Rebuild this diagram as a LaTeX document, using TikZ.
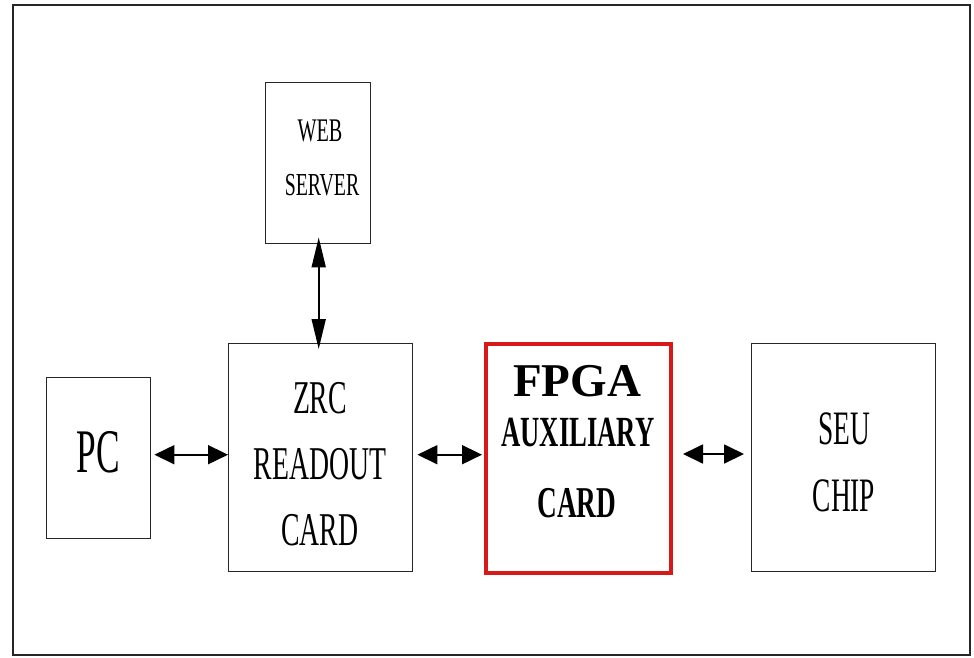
\documentclass[tikz,border=0pt]{standalone}
\usepackage{fontspec}
\setmainfont{Liberation Serif}
\usetikzlibrary{arrows.meta}
\definecolor{boxred}{RGB}{215,25,25}
\newcommand{\cnd}[2]{\scalebox{#1}[1]{#2}}
\begin{document}
\begin{tikzpicture}[x=1pt,y=-1pt,
  blk/.style={draw=black!85,line width=1.4pt,inner sep=0pt,anchor=north west},
  redblk/.style={draw=boxred,line width=4pt,inner sep=0pt,anchor=north west},
  lbl/.style={inner sep=0pt,anchor=center},
  harr/.style={line width=1.8pt,{Triangle[length=20pt,width=19pt]}-{Triangle[length=20pt,width=19pt]}},
  varr/.style={line width=1.8pt,{Triangle[length=30pt,width=14pt]}-{Triangle[length=30pt,width=14pt]}}]
\useasboundingbox (0,0) rectangle (974,657);
\draw[line width=1.6pt,black!85] (13,5) rectangle (970,655);
% boxes
\node[blk,minimum width=104pt,minimum height=161pt] (pc) at (46,377) {};
\node[blk,minimum width=184pt,minimum height=228pt] (zrc) at (228,343) {};
\node[redblk,minimum width=185pt,minimum height=229pt] (fpga) at (484,342) {};
\node[blk,minimum width=184pt,minimum height=228pt] (seu) at (751,343) {};
\node[blk,minimum width=105pt,minimum height=161pt] (web) at (265,82) {};
% texts
\node[lbl] (tpc) at (98,452.5) {\fontsize{62}{62}\selectfont\cnd{0.57}{PC}};
\node[lbl] (tzrc1) at (320,398) {\fontsize{47}{47}\selectfont\cnd{0.59}{ZRC}};
\node[lbl] (tzrc2) at (320,464) {\fontsize{47}{47}\selectfont\cnd{0.59}{READOUT}};
\node[lbl] (tzrc3) at (320,530) {\fontsize{47}{47}\selectfont\cnd{0.59}{CARD}};
\node[lbl] (tf1) at (577,381) {\fontsize{47}{47}\selectfont\bfseries FPGA};
\node[lbl] (tf2) at (578,432.5) {\fontsize{43}{43}\selectfont\bfseries\cnd{0.62}{AUXILIARY}};
\node[lbl] (tf3) at (577,503) {\fontsize{44}{44}\selectfont\bfseries\cnd{0.62}{CARD}};
\node[lbl] (ts1) at (844,429) {\fontsize{48}{48}\selectfont\cnd{0.57}{SEU}};
\node[lbl] (ts2) at (844,496) {\fontsize{48}{48}\selectfont\cnd{0.57}{CHIP}};
\node[lbl] (tw1) at (320,131) {\fontsize{33}{33}\selectfont\cnd{0.61}{WEB}};
\node[lbl] (tw2) at (322,185) {\fontsize{32}{32}\selectfont\cnd{0.62}{SERVER}};
% arrows
\draw[harr] ([xshift=3pt,yshift=3.5pt]pc.east) -- ([yshift=3.5pt]pc.east -| zrc.west);
\draw[harr] ([xshift=4pt,yshift=3pt]zrc.east) -- ([xshift=-2pt,yshift=3pt]zrc.east -| fpga.west);
\draw[harr] ([xshift=10pt,yshift=4.5pt]fpga.east) -- ([xshift=-7pt,yshift=4.5pt]fpga.east -| seu.west);
\draw[varr] ([xshift=0.5pt,yshift=7pt]web.south) -- ([xshift=0.5pt,yshift=-6pt]web.south |- zrc.north);
\end{tikzpicture}
\end{document}
